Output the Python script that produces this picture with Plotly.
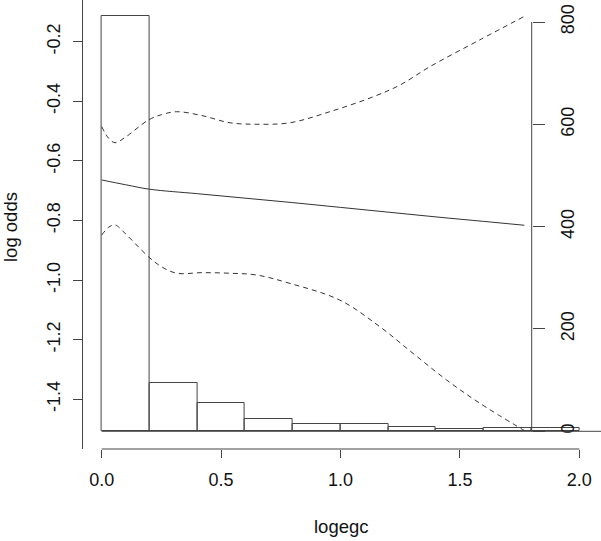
import plotly.graph_objects as go

# histogram of logegc (bin width 0.2)
bin_left = [0.0, 0.2, 0.4, 0.6, 0.8, 1.0, 1.2, 1.4, 1.6, 1.8]
bin_counts = [812, 94, 55, 25, 14, 14, 8, 4, 6, 7]

# smooth fit on log-odds scale with pointwise band
fit_x = [0.0, 0.1, 0.2, 0.4, 0.6, 0.8, 1.0, 1.2, 1.4, 1.6, 1.77]
fit_y = [-0.664, -0.680, -0.695, -0.710, -0.725, -0.740, -0.756, -0.772, -0.788, -0.803, -0.816]

upper_x = [0.0, 0.03, 0.056, 0.1, 0.195, 0.25, 0.314, 0.42, 0.537, 0.65, 0.788, 0.955, 1.136, 1.25, 1.374, 1.583, 1.77]
upper_y = [-0.485, -0.525, -0.539, -0.520, -0.463, -0.445, -0.435, -0.448, -0.472, -0.477, -0.472, -0.435, -0.385, -0.345, -0.284, -0.194, -0.115]

lower_x = [0.0, 0.03, 0.056, 0.1, 0.195, 0.25, 0.314, 0.42, 0.537, 0.649, 0.788, 0.997, 1.164, 1.304, 1.444, 1.583, 1.77]
lower_y = [-0.849, -0.822, -0.815, -0.845, -0.921, -0.955, -0.977, -0.975, -0.977, -0.983, -1.011, -1.067, -1.156, -1.246, -1.335, -1.413, -1.505]

left_ticks = [-1.4, -1.2, -1.0, -0.8, -0.6, -0.4, -0.2]
right_ticks = [0, 200, 400, 600, 800]
x_ticks = [0.0, 0.5, 1.0, 1.5, 2.0]

W, H = 601, 541
FONT = "Liberation Sans, Arial, sans-serif"
INK = "#444444"

fig = go.Figure()

# bars on the count axis (yaxis), curves on log-odds axis (yaxis2, drawn on top)
fig.add_trace(go.Bar(
    x=[b + 0.1 for b in bin_left], y=bin_counts, width=0.2,
    marker=dict(color="rgba(255,255,255,0)", line=dict(color=INK, width=1)),
    yaxis="y", xaxis="x", cliponaxis=False, showlegend=False,
))
fig.add_trace(go.Scatter(
    x=fit_x, y=fit_y, mode="lines", line=dict(color="#333333", width=1, shape="spline"),
    yaxis="y2", showlegend=False,
))
for xs, ys in [(upper_x, upper_y), (lower_x, lower_y)]:
    fig.add_trace(go.Scatter(
        x=xs, y=ys, mode="lines",
        line=dict(color="#333333", width=1, dash="5px,4px", shape="spline"),
        yaxis="y2", showlegend=False,
    ))

# pixel positions
x_lo_px, x_hi_px = 101.7, 579.3     # data 0 and 2
px_per_x = (x_hi_px - x_lo_px) / 2.0
plot_left, plot_right = 82.6, 598.4
plot_bottom = 449.0
left_axis_px = 81.7
right_axis_px = 531.7

lo_top_px, lo_val_top = 41.7, -0.2        # log-odds mapping
px_per_lo = (399.3 - 41.7) / 1.2
cnt0_px = 431.3
px_per_cnt = (431.3 - 22.0) / 800.0

def xval(px):
    return (px - x_lo_px) / px_per_x

y_dom = [(H - plot_bottom) / H, 1.0]
lo_range = [lo_val_top - (plot_bottom - lo_top_px) / px_per_lo, lo_val_top + lo_top_px / px_per_lo]
cnt_range = [-(plot_bottom - cnt0_px) / px_per_cnt, cnt0_px / px_per_cnt]

tickfont = dict(family=FONT, size=18, color="#111111")

fig.update_layout(
    width=W, height=H,
    margin=dict(l=0, r=0, t=0, b=0),
    paper_bgcolor="white", plot_bgcolor="white",
    bargap=0,
    xaxis=dict(
        domain=[plot_left / W, plot_right / W],
        range=[xval(plot_left), xval(plot_right)],
        tickvals=x_ticks, ticktext=["0.0", "0.5", "1.0", "1.5", "2.0"],
        ticks="outside", ticklen=8, tickcolor=INK, tickwidth=1,
        showline=False, showgrid=False, zeroline=False,
        anchor="y", tickfont=tickfont, automargin=False, ticklabelstandoff=6,
    ),
    yaxis=dict(
        domain=y_dom, range=cnt_range,
        tickvals=right_ticks, ticktext=[str(t) for t in right_ticks],
        side="right", anchor="free", position=right_axis_px / W,
        ticks="outside", ticklen=12, tickcolor=INK, tickwidth=1, tickangle=-90,
        showline=False, showgrid=False, zeroline=False,
        tickfont=tickfont, automargin=False, ticklabelstandoff=8,
    ),
    yaxis2=dict(
        domain=y_dom, range=lo_range, overlaying="y",
        tickvals=left_ticks, ticktext=["-1.4", "-1.2", "-1.0", "-0.8", "-0.6", "-0.4", "-0.2"],
        side="left", anchor="free", position=left_axis_px / W,
        ticks="outside", ticklen=9, tickcolor=INK, tickwidth=1, tickangle=-90,
        showline=True, linecolor=INK, linewidth=1,
        showgrid=False, zeroline=False,
        tickfont=tickfont, automargin=False, ticklabelstandoff=6,
    ),
    shapes=[
        # bottom axis line from 0 to 2
        dict(type="line", xref="x", yref="paper", x0=0, x1=2, y0=y_dom[0], y1=y_dom[0],
             line=dict(color=INK, width=1)),
        # right axis line from 0 to 800
        dict(type="line", xref="paper", yref="y", x0=right_axis_px / W, x1=right_axis_px / W,
             y0=0, y1=800, line=dict(color=INK, width=1)),
        # baseline of histogram
        dict(type="line", xref="paper", yref="y", x0=x_lo_px / W, x1=1, y0=0, y1=0,
             line=dict(color=INK, width=1)),
    ],
    annotations=[
        dict(text="logegc", xref="paper", yref="paper", x=341 / W, y=(H - 526) / H,
             xanchor="center", yanchor="middle", showarrow=False,
             font=dict(family=FONT, size=18.5, color="#111111")),
        dict(text="log odds", xref="paper", yref="paper", x=10 / W, y=(H - 227) / H,
             textangle=-90, xanchor="center", yanchor="middle", showarrow=False,
             font=dict(family=FONT, size=18.5, color="#111111")),
    ],
)

# drop the default 8px body margin so the figure sits at the window corner
fig.write_html("out.html", config={"displayModeBar": False},
               post_script="document.body.style.margin='0';")
